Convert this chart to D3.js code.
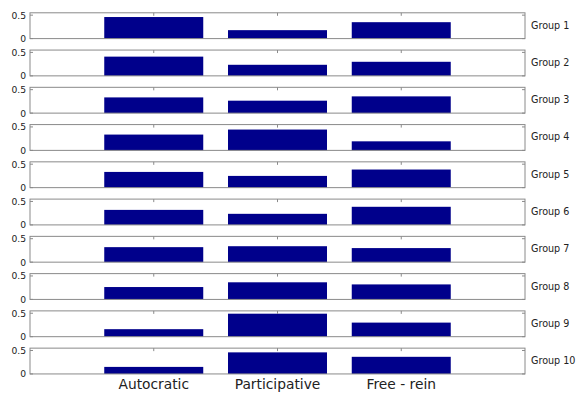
<!DOCTYPE html>
<html>
<head>
<meta charset="utf-8">
<script src="https://cdn.jsdelivr.net/npm/d3@7"></script>
<style>
  html, body { margin: 0; padding: 0; background: #fff; }
  svg { display: block; }
  text { font-family: "DejaVu Sans", sans-serif; fill: #222; }
</style>
</head>
<body>
<svg id="chart" width="576" height="395"></svg>
<script>
// Leadership style shares per group
const styles = ["Autocratic", "Participative", "Free - rein"];
const groups = ["Group 1", "Group 2", "Group 3", "Group 4", "Group 5",
                "Group 6", "Group 7", "Group 8", "Group 9", "Group 10"];
const autocratic    = [0.46, 0.41, 0.335, 0.337, 0.335, 0.32, 0.32, 0.264, 0.16, 0.15];
const participative = [0.18, 0.236, 0.265, 0.444, 0.25, 0.236, 0.34, 0.365, 0.49, 0.46];
const freeRein      = [0.35, 0.30, 0.357, 0.193, 0.386, 0.386, 0.30, 0.32, 0.30, 0.365];
const yTicks = [0, 0.5];
const yMax = 0.55;

const series = [autocratic, participative, freeRein];

const svg = d3.select("#chart");
const left = 30, right = 525;
const panelTop = 12.8, panelStep = 37.26, panelH = 25.8;
const spine = "#8a8a8a";

// x in category units: categories sit at 1, 2, 3 on a 0..4 range
const x = d3.scaleLinear().domain([0, 4]).range([left, right]);
const barW = 0.8;

groups.forEach((g, i) => {
  const top = panelTop + i * panelStep;
  const y = d3.scaleLinear().domain([0, yMax]).range([top + panelH, top]);
  const p = svg.append("g");

  // bars
  p.selectAll("rect.bar")
    .data(styles.map((s, j) => ({ k: j + 1, v: series[j][i] })))
    .join("rect")
    .attr("class", "bar")
    .attr("x", d => x(d.k - barW / 2))
    .attr("width", d => x(d.k + barW / 2) - x(d.k - barW / 2))
    .attr("y", d => y(d.v))
    .attr("height", d => y(0) - y(d.v))
    .attr("fill", "#00008b");

  // inward ticks on all four sides
  const tl = 3;
  [1, 2, 3].forEach(k => {
    p.append("line").attr("x1", x(k)).attr("x2", x(k))
      .attr("y1", top).attr("y2", top + tl)
      .attr("stroke", spine).attr("stroke-width", 1);
  });
  yTicks.forEach(t => {
    p.append("line").attr("x1", left).attr("x2", left + tl)
      .attr("y1", y(t)).attr("y2", y(t)).attr("stroke", spine);
    p.append("line").attr("x1", right - tl).attr("x2", right)
      .attr("y1", y(t)).attr("y2", y(t)).attr("stroke", spine);
    p.append("text")
      .attr("x", left - 4).attr("y", y(t))
      .attr("text-anchor", "end").attr("dominant-baseline", "central")
      .attr("font-size", 9.2)
      .text(d3.format("")(t));
  });

  // frame
  p.append("rect")
    .attr("x", left).attr("y", top)
    .attr("width", right - left).attr("height", panelH)
    .attr("fill", "none").attr("stroke", spine).attr("stroke-width", 1);

  // group label on the right
  p.append("text")
    .attr("x", 531).attr("y", top + panelH / 2 - 0.5)
    .attr("dominant-baseline", "central")
    .attr("font-size", 9.6)
    .text(g);
});

// category labels under the last panel
const lastBottom = panelTop + 9 * panelStep + panelH;
svg.append("g").selectAll("text")
  .data(styles)
  .join("text")
  .attr("x", (d, j) => x(j + 1))
  .attr("y", lastBottom + 15)
  .attr("text-anchor", "middle")
  .attr("font-size", 13.8)
  .text(d => d);
</script>
</body>
</html>
